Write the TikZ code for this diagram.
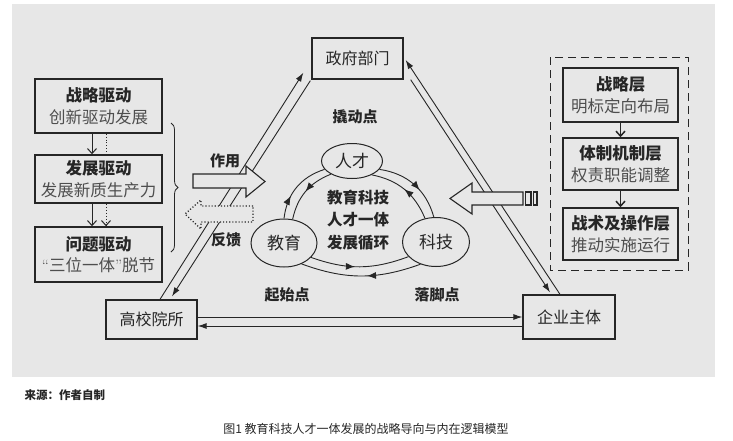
\documentclass[tikz,border=0pt]{standalone}
\usepackage{fontspec}
\newfontfamily\cjk{Noto Sans CJK SC}
\usetikzlibrary{arrows.meta,shapes.geometric,decorations.markings,decorations.pathreplacing}
\definecolor{bggray}{HTML}{E7E7E7}
\definecolor{ink}{HTML}{262626}
\definecolor{softink}{HTML}{4E4E4E}

\begin{document}
\begin{tikzpicture}[x=1pt,y=-1pt,>={Latex[length=9pt,width=6pt]},
  every node/.style={font=\cjk\fontsize{16}{21}\selectfont, text=ink},
  actor/.style={draw=ink, line width=1.3pt, minimum width=91pt, minimum height=41pt, inner sep=0pt},
  drivebox/.style={draw=ink, line width=1.5pt, minimum width=127pt, inner sep=0pt, align=center, font=\cjk\fontsize{16.5}{21.5}\selectfont},
  layerbox/.style={draw=ink, line width=1.5pt, minimum width=115pt, minimum height=52pt, inner sep=0pt, align=center, font=\cjk\fontsize{16.5}{22}\selectfont},
  core/.style={ellipse, draw=ink, line width=1pt, fill=bggray, inner sep=0pt, font=\cjk\fontsize{17}{20}\selectfont},
  tag/.style={font=\cjk\bfseries\fontsize{15}{18}\selectfont},
  flow/.style={draw=ink, line width=0.9pt},
  cycarc/.style={draw=ink, line width=0.9pt, postaction={decorate},
    decoration={markings, mark=at position #1 with {\arrow{Latex[length=9pt,width=7pt]}}}},
  hollow/.style={draw=ink, line width=1.1pt, fill=bggray, line join=miter},
  stepdown/.style={-{Straight Barb[length=5pt,width=9pt]}, draw=ink, line width=1pt}]
% background panel
\useasboundingbox (0,0) rectangle (733,440);
\fill[bggray] (12,4) rectangle (715,377);

% ==================== TRIANGLE: THREE ACTORS ====================
\node[actor] (zf) at (357.5,58.5) {政府部门};
\node[actor, minimum height=39pt] (gx) at (151.5,319.5) {高校院所};
\node[actor, minimum width=92pt, minimum height=44pt] (qy) at (569,317) {企业主体};
% left side
\draw[flow,->] ([xshift=8.5pt]gx.north) -- ([xshift=-8pt,yshift=7pt]zf.south west);
\draw[flow,->] ([xshift=-1pt,yshift=-1pt]zf.south west) -- ([xshift=20.5pt,yshift=3pt]gx.north);
% right side
\draw[flow,->] ([xshift=7pt]zf.south east) -- ([xshift=-19pt,yshift=2pt]qy.north);
\draw[flow,->] ([xshift=-9pt]qy.north) -- ([xshift=2pt,yshift=-1.5pt]zf.east);
% bottom side
\draw[flow,->] ([yshift=2.5pt]gx.east) -- (qy.west);
\draw[flow,->] ([yshift=-9pt]qy.west) -- ([yshift=-6.5pt]gx.east);

% ==================== LEFT: THREE DRIVERS ====================
\node[drivebox, minimum height=54pt] (zl) at (98.5,106) {{\bfseries 战略驱动}\\{\color{softink}创新驱动发展}};
\node[drivebox, minimum height=48pt] (fz) at (98.5,179) {{\bfseries 发展驱动}\\{\color{softink}发展新质生产力}};
\node[drivebox, minimum height=55pt] (wt) at (98.5,254.5) {{\bfseries 问题驱动}\\{\color{softink}{\normalfont``}三位一体{\normalfont''}脱节}};
\draw[stepdown] ([xshift=-6.5pt]zl.south) -- ([xshift=-6.5pt]fz.north);
\draw[ink, dotted, line width=0.9pt] ([xshift=7.5pt]zl.south) -- ([xshift=7.5pt]fz.north);
\draw[stepdown] ([xshift=-6.5pt]fz.south) -- ([xshift=-6.5pt]wt.north);
\draw[stepdown, dotted] ([xshift=7.5pt]fz.south) -- ([xshift=7.5pt]wt.north);
% brace
\draw[ink, line width=0.8pt, decorate, decoration={brace, amplitude=7pt}] (171,123) -- (171,252);

% ==================== RIGHT: THREE LAYERS ====================
\draw[ink, line width=1pt, dash pattern=on 8pt off 5pt] (550,57) rectangle (688,270);
\node[layerbox, minimum height=54pt] (zlc) at (620.5,95) {{\bfseries 战略层}\\{\color{softink}明标定向布局}};
\node[layerbox] (tz) at (620.5,164) {{\bfseries 体制机制层}\\{\color{softink}权责职能调整}};
\node[layerbox] (zs) at (620.5,234) {{\bfseries 战术及操作层}\\{\color{softink}推动实施运行}};
\draw[stepdown, line width=1.5pt] (zlc.south) -- (tz.north);
\draw[stepdown, line width=1.5pt] (tz.south) -- (zs.north);

% ==================== CENTRE: CYCLE ====================
\node[core, minimum width=61pt, minimum height=35pt] (rc) at (352,161) {人才};
\node[core, minimum width=66pt, minimum height=48pt] (jy) at (284,243) {教育};
\node[core, minimum width=67pt, minimum height=49pt] (kj) at (436,242) {科技};
\node[tag, font=\cjk\bfseries\fontsize{15.5}{22.5}\selectfont, align=center] (xh) at (358,220) {教育科技\\人才一体\\发展循环};
% outer ring (clockwise)
\draw[cycarc=0.35] (jy.90) to[bend left=33] (rc.197);
\draw[cycarc=0.6] (rc.-17) to[bend left=33] (kj.95);
\draw[cycarc=0.45] (kj.235) to[bend left=20] (jy.-50);
% inner ring (counter-clockwise)
\draw[cycarc=0.5] (rc.212) to[bend right=28] (jy.70);
\draw[cycarc=0.5] (kj.115) to[bend right=28] (rc.-35);
\draw[cycarc=0.45] (jy.-28) to[bend right=20] (kj.208);
% points
\node[tag] (qd) at (355,117) {撬动点};
\node[tag] (qs) at (287,295) {起始点};
\node[tag] (lj) at (437,295) {落脚点};

% ==================== HOLLOW ARROWS ====================
\draw[hollow] (193,174) -- (246,174) -- (246,166) -- (265,181.5) -- (246,197) -- (246,188) -- (193,188) -- cycle;
\node[tag] (zy) at (225,161) {作用};
\draw[hollow, dotted, line width=1.3pt] (253,206) -- (201,206) -- (201,200) -- (185,214) -- (201,229) -- (201,222) -- (253,222) -- cycle;
\node[tag] (fk) at (226,240) {反馈};
\draw[hollow] (523,192) -- (472,192) -- (472,183) -- (450,198.5) -- (472,214) -- (472,205) -- (523,205) -- cycle;
\draw[hollow] (525.5,192) rectangle (531,205);
\draw[hollow] (533.5,192) rectangle (537,205);

% ==================== SOURCE AND CAPTION ====================
\node[anchor=west, font=\cjk\bfseries\fontsize{11.5}{14}\selectfont] (src) at (21,395) {来源：作者自制};
\node[font=\cjk\fontsize{12}{14}\selectfont] (cap) at (366,429) {图1\ 教育科技人才一体发展的战略导向与内在逻辑模型};
\end{tikzpicture}
\end{document}
